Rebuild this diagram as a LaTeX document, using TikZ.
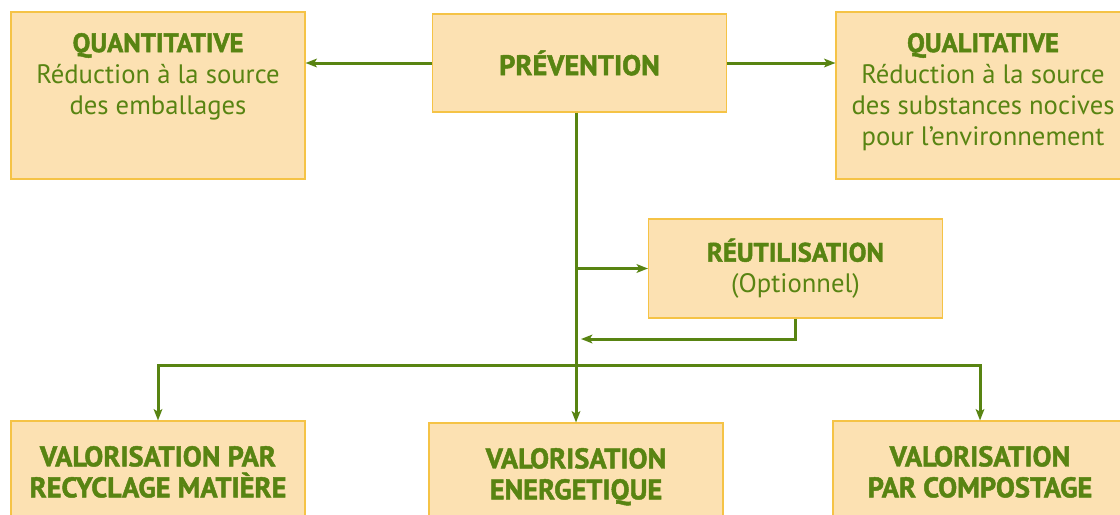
\documentclass[tikz,border=0pt]{standalone}
\usepackage{fontspec}
\setmainfont{PT Sans}[BoldFeatures={FakeBold=1.6}]
\usetikzlibrary{arrows.meta,positioning}

\definecolor{vert}{RGB}{88,132,18}
\definecolor{sable}{RGB}{252,225,178}
\definecolor{ocre}{RGB}{245,195,70}

\tikzset{
  boite/.style={draw=ocre,fill=sable,line width=0.8pt,minimum width=220.5pt,inner sep=0pt},
  texte/.style={text=vert,align=center,inner sep=0pt,font=\fontsize{20}{23.25}\selectfont},
  titre/.style={texte,font=\fontsize{21.3}{23.25}\selectfont\bfseries},
  fleche/.style={draw=vert,line width=2.25pt,-{Stealth[length=8.5pt,width=6.5pt,inset=2pt]}},
}

\begin{document}
\begin{tikzpicture}[x=0.75pt,y=-0.75pt]
	  \clip (0,0) rectangle (1120,514);

	  % boites du haut
	  \node[boite,minimum height=125.25pt] (quanti) at (158,95.5) {};
	  \node[boite,minimum height=73.5pt]   (prev)   at (579.5,63) {};
	  \node[boite,minimum height=125.25pt] (quali)  at (983,95.5) {};
	  \node[boite,minimum height=74.25pt]  (reut)   at (795.5,268.5) {};

	  % boites du bas
	  \node[boite,minimum height=90pt] (recy)  at (158,481) {};
	  \node[boite,minimum height=90pt] (ener)  at (576,483) {};
	  \node[boite,minimum height=90pt] (compo) at (980,481) {};

	  % textes
	  \node[texte,anchor=north] (quanti-t) at ([yshift=-16pt]quanti.north)
	    {\textbf{QUANTITATIVE}\\Réduction à la source\\des emballages};
	  \node[titre] (prev-t) at (prev) {PRÉVENTION};
	  \node[texte,anchor=north] (quali-t) at ([yshift=-16pt]quali.north)
	    {\textbf{QUALITATIVE}\\Réduction à la source\\des substances nocives\\pour l’environnement};
	  \node[texte] (reut-t) at (reut) {\textbf{RÉUTILISATION}\\(Optionnel)};
	  \node[titre,anchor=north] (recy-t) at ([yshift=-19pt]recy.north)
	    {VALORISATION PAR\\RECYCLAGE MATIÈRE};
	  \node[titre,anchor=north] (ener-t) at ([yshift=-19pt]ener.north)
	    {VALORISATION\\ENERGETIQUE};
	  \node[titre,anchor=north] (compo-t) at ([yshift=-19pt]compo.north)
	    {VALORISATION\\PAR COMPOSTAGE};

	  \coordinate (retour) at (581,339);
	  \coordinate (bus) at (0,365);

	  % fleches
	  \draw[fleche] (prev.west) -- (prev.west -| quanti.east);
	  \draw[fleche] (prev.east) -- (prev.east -| quali.west);
	  \draw[fleche] (ener.north |- prev.south) -- (ener.north);
	  \draw[fleche] (ener.north |- reut.west) -- (reut.west);
	  \draw[fleche] (reut.south) |- (retour);
	  \draw[fleche] (ener.north |- bus) -| (recy.north);
	  \draw[fleche] (ener.north |- bus) -| (compo.north);
	\end{tikzpicture}
\end{document}
